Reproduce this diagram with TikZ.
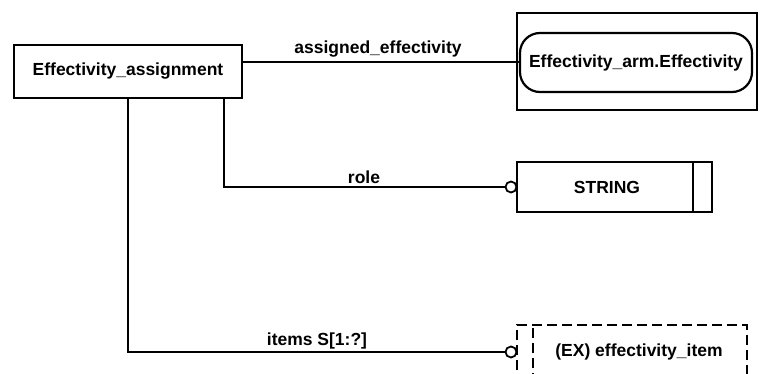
\documentclass[tikz,border=0pt]{standalone}
\usepackage{fontspec}
\setmainfont{Liberation Sans}
\begin{document}
\begin{tikzpicture}[x=1pt,y=-1pt,line width=2.2pt,
  lbl/.style={font=\bfseries\fontsize{17.5}{19}\selectfont, inner sep=0pt},
  entbox/.style={draw, lbl, inner sep=0pt},
  opencirc/.style={draw, circle, fill=white, minimum size=11pt, inner sep=0pt, line width=1.8pt}]
\useasboundingbox (0,0) rectangle (760,374);
% main entity
\node[entbox, minimum width=228, minimum height=53] (ea) at (128,71.5) {Effectivity\_assignment};
% outer rectangle and rounded node
\node[draw, minimum width=240, minimum height=97, inner sep=0pt] (outer) at (637,61.5) {};
\node[entbox, rounded corners=20pt, minimum width=232, minimum height=59] (eff) at (636,62.5) {Effectivity\_arm.Effectivity};
% STRING
\node[draw, minimum width=195, minimum height=50, inner sep=0pt] (str) at (614.5,187) {};
\node[lbl] (strtxt) at (607,187) {STRING};
\draw (693,162) -- (693,212);
% dashed select box
\draw[dash pattern=on 10pt off 5pt] (517,385) -- (517,325) -- (747,325) -- (747,385);
\draw[dash pattern=on 10pt off 5pt] (533,328) -- (533,385);
\node[lbl] (item) at (639,352) {(EX) effectivity\_item};
% circles
\node[opencirc] (c1) at (511,187) {};
\node[opencirc] (c2) at (511,352) {};
% connectors
\coordinate (a1) at (242,62);
\draw (a1) -- (eff.west |- a1);
\node[lbl] (l1) at (378,49) {assigned\_effectivity};
\coordinate (r0) at (224,98);
\coordinate (r1) at (224,187);
\draw (r0) -- (r1) -- (c1.west);
\node[lbl] (l2) at (364,177) {role};
\coordinate (i0) at (128,98);
\coordinate (i1) at (128,352);
\draw (i0) -- (i1) -- (c2.west);
\node[lbl] (l3) at (317,341) {items S[1:?]};
\end{tikzpicture}
\end{document}
